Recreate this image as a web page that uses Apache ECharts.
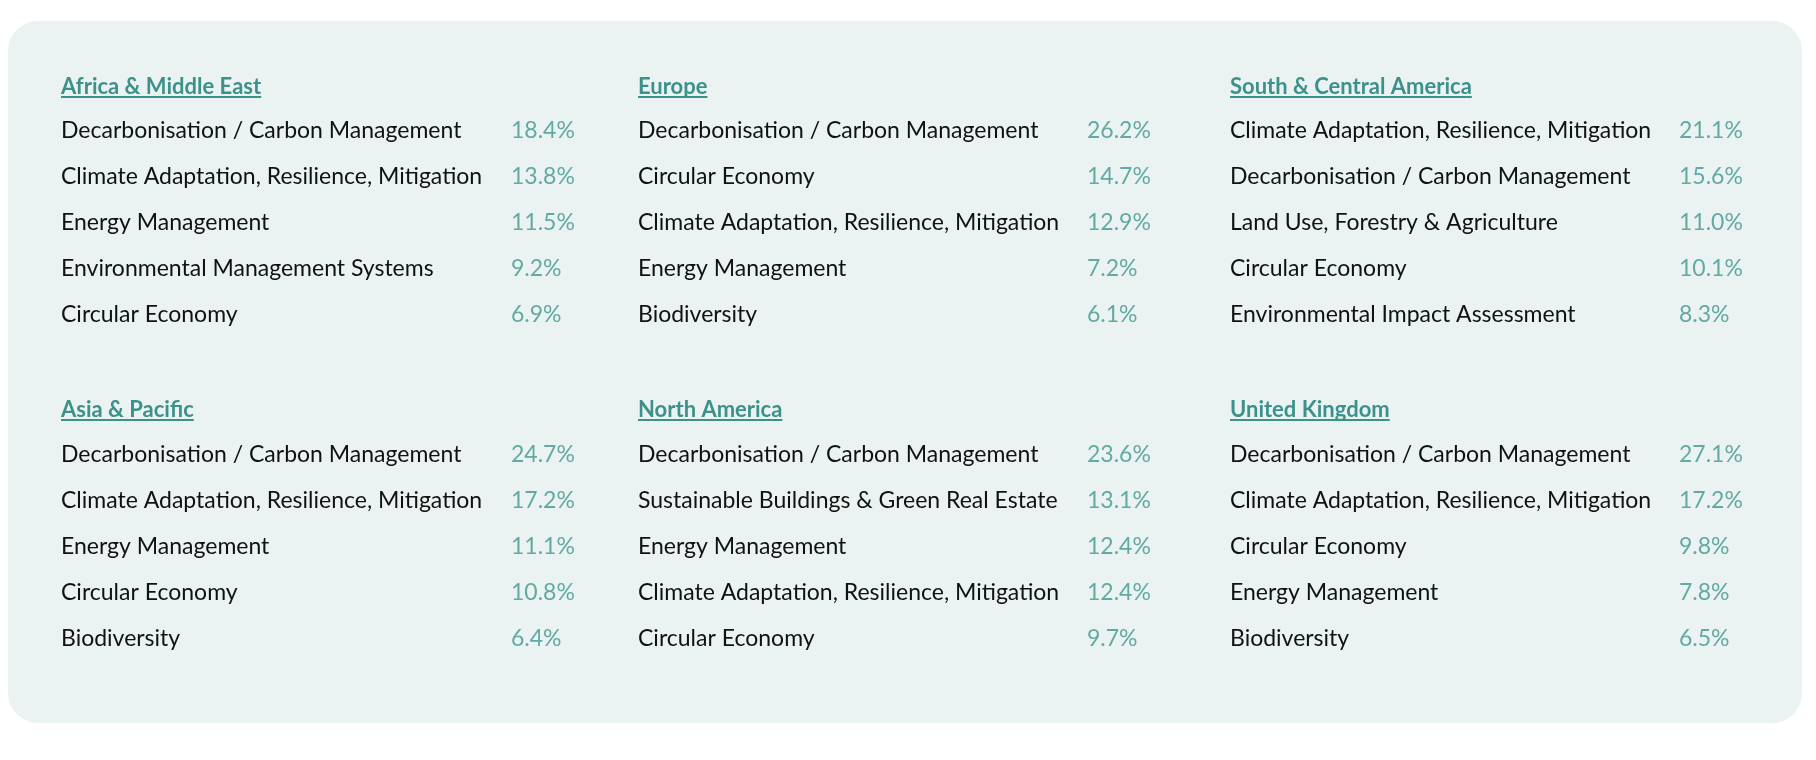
<!DOCTYPE html>
<html>
<head>
<meta charset="utf-8">
<script src="https://cdn.jsdelivr.net/npm/echarts@6/dist/echarts.min.js"></script>
<style>
html,body{margin:0;padding:0;background:#ffffff;}
#chart{width:1816px;height:760px;}
</style>
</head>
<body>
<div id="chart"></div>
<script>
// ---- data ----
const regions = ["Africa & Middle East", "Europe", "South & Central America", "Asia & Pacific", "North America", "United Kingdom"];
const topicsAME = ["Decarbonisation / Carbon Management", "Climate Adaptation, Resilience, Mitigation", "Energy Management", "Environmental Management Systems", "Circular Economy"];
const valuesAME = [18.4, 13.8, 11.5, 9.2, 6.9];
const topicsEU = ["Decarbonisation / Carbon Management", "Circular Economy", "Climate Adaptation, Resilience, Mitigation", "Energy Management", "Biodiversity"];
const valuesEU = [26.2, 14.7, 12.9, 7.2, 6.1];
const topicsSCA = ["Climate Adaptation, Resilience, Mitigation", "Decarbonisation / Carbon Management", "Land Use, Forestry & Agriculture", "Circular Economy", "Environmental Impact Assessment"];
const valuesSCA = [21.1, 15.6, 11.0, 10.1, 8.3];
const topicsAP = ["Decarbonisation / Carbon Management", "Climate Adaptation, Resilience, Mitigation", "Energy Management", "Circular Economy", "Biodiversity"];
const valuesAP = [24.7, 17.2, 11.1, 10.8, 6.4];
const topicsNA = ["Decarbonisation / Carbon Management", "Sustainable Buildings & Green Real Estate", "Energy Management", "Climate Adaptation, Resilience, Mitigation", "Circular Economy"];
const valuesNA = [23.6, 13.1, 12.4, 12.4, 9.7];
const topicsUK = ["Decarbonisation / Carbon Management", "Climate Adaptation, Resilience, Mitigation", "Circular Economy", "Energy Management", "Biodiversity"];
const valuesUK = [27.1, 17.2, 9.8, 7.8, 6.5];

const topicLists = [topicsAME, topicsEU, topicsSCA, topicsAP, topicsNA, topicsUK];
const valueLists = [valuesAME, valuesEU, valuesSCA, valuesAP, valuesNA, valuesUK];

// ---- layout / style ----
const FONT = "Lato";
const TEAL = "#3f968f";
const TITLE_TEAL = "#3c918a";
const colLeft = [61, 638, 1230];
const colPct = [511, 1087, 1679];
const blockTop = [108, 432];
const blockTitleY = [86, 409];
const rowBand = 230;
const TITLE_FONT = '700 22px ' + FONT;

const chart = echarts.init(document.getElementById('chart'), null, {renderer: 'canvas'});

const grids = [], xAxes = [], yAxes = [], series = [], graphics = [];

// panel background
graphics.push({
  type: 'rect', left: 8, top: 21, z: -10,
  shape: {width: 1794, height: 702, r: 30},
  style: {fill: '#ebf3f2'}
});

const ctx = document.createElement('canvas').getContext('2d');
ctx.font = TITLE_FONT;

regions.forEach((name, i) => {
  const c = i % 3, r = Math.floor(i / 3);
  grids.push({left: colLeft[c], top: blockTop[r], width: colPct[c] - colLeft[c], height: rowBand, containLabel: false});
  xAxes.push({type: 'value', gridIndex: i, min: 0, max: 1, show: false});
  yAxes.push({
    type: 'category', gridIndex: i, inverse: true, data: topicLists[i],
    axisLine: {show: false}, axisTick: {show: false}, splitLine: {show: false},
    axisLabel: {align: 'left', margin: 0, color: '#111111', fontFamily: FONT, fontSize: 23}
  });
  series.push({
    type: 'scatter', xAxisIndex: i, yAxisIndex: i, symbolSize: 0, silent: true,
    data: valueLists[i].map((v, k) => [1, k, v]),
    encode: {x: 0, y: 1},
    label: {
      show: true, position: 'right', distance: 0,
      formatter: p => p.value[2].toFixed(1) + '%',
      color: TEAL, fontFamily: FONT, fontSize: 23
    }
  });
  // region heading with underline
  const w = ctx.measureText(name).width;
  graphics.push({
    type: 'text', left: colLeft[c], top: blockTitleY[r] - 10,
    style: {text: name, fill: TITLE_TEAL, font: TITLE_FONT}
  });
  graphics.push({
    type: 'rect', left: colLeft[c], top: blockTitleY[r] + 10,
    shape: {width: w, height: 2},
    style: {fill: TITLE_TEAL}
  });
});

chart.setOption({
  animation: false,
  backgroundColor: '#ffffff',
  grid: grids, xAxis: xAxes, yAxis: yAxes, series: series,
  graphic: graphics
});
</script>
</body>
</html>
